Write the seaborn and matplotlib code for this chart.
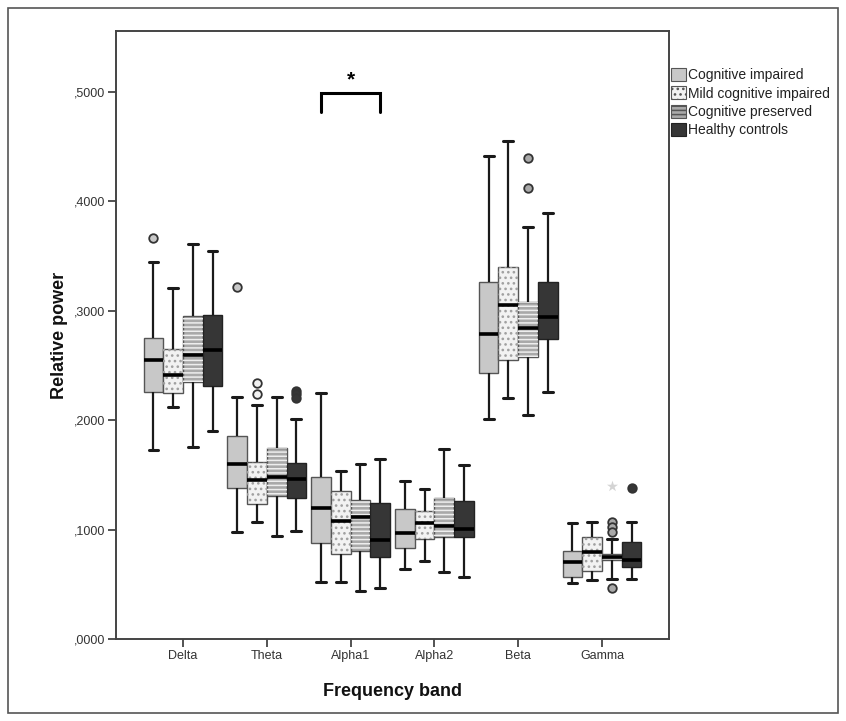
import numpy as np
import pandas as pd
import matplotlib
matplotlib.use("Agg")
import matplotlib.pyplot as plt
import matplotlib.colors as mcolors
import seaborn as sns
from matplotlib.patches import Patch, Rectangle, PathPatch
from matplotlib.ticker import FuncFormatter

# ---------------- data ----------------
bands = ["Delta", "Theta", "Alpha1", "Alpha2", "Beta", "Gamma"]
groups = ["Cognitive impaired", "Mild cognitive impaired",
          "Cognitive preserved", "Healthy controls"]

# [lower whisker, Q1, median, Q3, upper whisker] for each band
ci_stats = [
    [0.1728, 0.2255, 0.2547, 0.2749, 0.3443],
    [0.0981, 0.1377, 0.1600, 0.1856, 0.2215],
    [0.0524, 0.0880, 0.1200, 0.1478, 0.2251],
    [0.0640, 0.0835, 0.0966, 0.1186, 0.1444],
    [0.2011, 0.2429, 0.2785, 0.3260, 0.4418],
    [0.0509, 0.0570, 0.0701, 0.0807, 0.1058],
]
mci_stats = [
    [0.2118, 0.2251, 0.2410, 0.2648, 0.3208],
    [0.1066, 0.1231, 0.1453, 0.1615, 0.2139],
    [0.0524, 0.0777, 0.1079, 0.1353, 0.1539],
    [0.0716, 0.0911, 0.1057, 0.1173, 0.1371],
    [0.2206, 0.2550, 0.3056, 0.3403, 0.4555],
    [0.0539, 0.0624, 0.0792, 0.0930, 0.1066],
]
cp_stats = [
    [0.1752, 0.2346, 0.2596, 0.2955, 0.3608],
    [0.0941, 0.1310, 0.1478, 0.1743, 0.2215],
    [0.0442, 0.0808, 0.1112, 0.1271, 0.1600],
    [0.0609, 0.0935, 0.1033, 0.1286, 0.1734],
    [0.2045, 0.2575, 0.2843, 0.3084, 0.3769],
    [0.0545, 0.0722, 0.0747, 0.0777, 0.0911],
]
hc_stats = [
    [0.1901, 0.2316, 0.2642, 0.2962, 0.3547],
    [0.0990, 0.1292, 0.1460, 0.1606, 0.2011],
    [0.0463, 0.0753, 0.0905, 0.1246, 0.1645],
    [0.0570, 0.0930, 0.1003, 0.1261, 0.1590],
    [0.2260, 0.2742, 0.2946, 0.3266, 0.3891],
    [0.0545, 0.0655, 0.0722, 0.0890, 0.1066],
]

# outliers (circles)
out_band = ["Delta", "Theta", "Theta", "Theta", "Theta", "Theta", "Theta",
            "Beta", "Beta", "Gamma", "Gamma", "Gamma", "Gamma", "Gamma"]
out_group = ["Cognitive impaired", "Cognitive impaired",
             "Mild cognitive impaired", "Mild cognitive impaired",
             "Healthy controls", "Healthy controls", "Healthy controls",
             "Cognitive preserved", "Cognitive preserved",
             "Cognitive preserved", "Cognitive preserved",
             "Cognitive preserved", "Cognitive preserved",
             "Healthy controls"]
out_value = [0.3663, 0.3220, 0.2337, 0.2239, 0.2265, 0.2240, 0.2205,
             0.4394, 0.4125, 0.1066, 0.1027, 0.0981, 0.0463, 0.1377]
# extreme values (asterisk)
ext_band = ["Gamma"]
ext_group = ["Cognitive preserved"]
ext_value = [0.1399]

# significance bracket
sig_band = "Alpha1"
sig_from, sig_to = "Cognitive impaired", "Healthy controls"
sig_y = 0.4988
sig_label = "*"

y_ticks = [0.0, 0.1, 0.2, 0.3, 0.4, 0.5]

# ---------------- styling ----------------
sns.set_style("white")
plt.rcParams["font.family"] = ["Liberation Sans", "DejaVu Sans"]
plt.rcParams["hatch.linewidth"] = 1.1

face = {"Cognitive impaired": "#c8c8c8",
        "Mild cognitive impaired": "#f2f2f2",
        "Cognitive preserved": "#a9a9a9",
        "Healthy controls": "#363636"}
edge = {"Cognitive impaired": "#555555",
        "Mild cognitive impaired": "#555555",
        "Cognitive preserved": "#555555",
        "Healthy controls": "#222222"}
hatch = {"Cognitive impaired": None,
         "Mild cognitive impaired": "...",
         "Cognitive preserved": "----",
         "Healthy controls": None}
hatch_col = {"Mild cognitive impaired": "#a0a0a0",
             "Cognitive preserved": "#eeeeee"}

rows = []
for g, stats in zip(groups, [ci_stats, mci_stats, cp_stats, hc_stats]):
    for b, s in zip(bands, stats):
        for v in s:
            rows.append((b, g, v))
df = pd.DataFrame(rows, columns=["band", "group", "value"])

W, H = 846, 721
fig = plt.figure(figsize=(W / 100, H / 100), dpi=100)
ax_l, ax_r, ax_t, ax_b = 116, 669, 31, 639
ax = fig.add_axes([ax_l / W, 1 - ax_b / H, (ax_r - ax_l) / W, (ax_b - ax_t) / H])

box_width = 0.94
sns.boxplot(data=df, x="band", y="value", hue="group", order=bands,
            hue_order=groups, palette=face, width=box_width, gap=0,
            whis=(0, 100), saturation=1, fliersize=0, linewidth=1.6,
            linecolor="#1a1a1a",
            boxprops=dict(linewidth=1.0, edgecolor="#555555"),
            medianprops=dict(color="black", linewidth=2.6),
            whiskerprops=dict(color="#1a1a1a", linewidth=1.6),
            capprops=dict(color="#1a1a1a", linewidth=2.2),
            legend=False, ax=ax)

# hatch overlays and edge colours per group
hex_to_group = {mcolors.to_hex(face[g]): g for g in groups}
for p in list(ax.patches):
    g = hex_to_group.get(mcolors.to_hex(p.get_facecolor()))
    if g is None:
        continue
    p.set_edgecolor(edge[g])
    if hatch[g]:
        ov = PathPatch(p.get_path(), transform=p.get_transform(),
                       facecolor="none", edgecolor=hatch_col[g], linewidth=0,
                       hatch=hatch[g], zorder=p.get_zorder() + 0.05)
        ax.add_patch(ov)

n = len(groups)
offsets = {g: -box_width / 2 + box_width / (2 * n) + i * box_width / n
           for i, g in enumerate(groups)}

for b, g, v in zip(out_band, out_group, out_value):
    ax.scatter(bands.index(b) + offsets[g], v, s=38, marker="o",
               facecolor=face[g], edgecolor="#333333", linewidth=1.3, zorder=6)
for b, g, v in zip(ext_band, ext_group, ext_value):
    ax.scatter(bands.index(b) + offsets[g], v, s=70, marker="*",
               color="#d4d4d4", linewidth=0, zorder=6)

# significance bracket
xi = bands.index(sig_band)
x1, x2 = xi + offsets[sig_from], xi + offsets[sig_to]
ax.plot([x1, x1, x2, x2], [sig_y - 0.0168, sig_y, sig_y, sig_y - 0.0168],
        color="black", linewidth=2.2, solid_joinstyle="miter", zorder=7)
ax.text((x1 + x2) / 2, sig_y + 0.004, sig_label, ha="center", va="bottom",
        fontsize=15, fontweight="bold", color="black")

# axes
ax.set_xlim(-0.8, len(bands) - 0.2)
ax.set_ylim(0, (ax_b - ax_t) / 1094)
ax.set_yticks(y_ticks)
ax.yaxis.set_major_formatter(FuncFormatter(lambda v, _: ("%.4f" % v).replace("0.", ",", 1)))
ax.tick_params(axis="both", direction="out", length=6, width=1.3, colors="#444444",
               labelsize=9, labelcolor="#333333", left=True, bottom=True, pad=2)
for s in ax.spines.values():
    s.set_visible(True)
    s.set_color("#444444")
    s.set_linewidth(1.4)
ax.set_xlabel("Frequency band", fontsize=13, fontweight="bold", color="#111111")
ax.set_ylabel("Relative power", fontsize=13, fontweight="bold", color="#111111")
ax.xaxis.set_label_coords(0.5, -(683 - ax_b) / (ax_b - ax_t))
ax.yaxis.set_label_coords(-(ax_l - 68) / (ax_r - ax_l), 0.5)
ax.grid(False)

# legend
handles = []
for g in groups:
    handles.append(Patch(facecolor=face[g], edgecolor=edge[g], linewidth=0.8,
                         hatch=hatch[g] if hatch[g] else None))
leg = fig.legend(handles, groups, loc="upper left",
                 bbox_to_anchor=(671 / W, 1 - 68 / H), frameon=False,
                 fontsize=10, handlelength=1.05, handleheight=1.05,
                 handletextpad=0.15, labelspacing=0.3, borderpad=0,
                 borderaxespad=0)
for t in leg.get_texts():
    t.set_color("#222222")

# outer frame of the figure
fig.patches.append(Rectangle((8 / W, 8 / H), 830 / W, 705 / H,
                             transform=fig.transFigure, fill=False,
                             edgecolor="#555555", linewidth=1.2))

fig.savefig("out.png", dpi=100)
